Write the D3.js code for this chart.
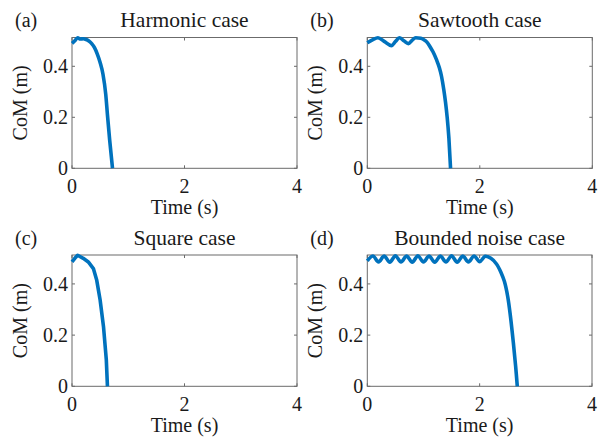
<!DOCTYPE html>
<html><head><meta charset="utf-8">
<script src="https://cdn.jsdelivr.net/npm/d3@7"></script>
<style>html,body{margin:0;padding:0;background:#fff;}svg{display:block;}</style>
</head><body>
<svg id="c" width="606" height="439"></svg>
<script>
// ---- data ----
const panelLetters = ["(a)", "(b)", "(c)", "(d)"];
const panelTitles = ["Harmonic case", "Sawtooth case", "Square case", "Bounded noise case"];
const xTicks = [0, 2, 4];
const yTicks = [0, 0.2, 0.4];
const xLabel = "Time (s)";
const yLabel = "CoM (m)";

const harmonicT = [0, 0.05, 0.1, 0.15, 0.2, 0.25, 0.3, 0.35, 0.4, 0.45, 0.5, 0.55, 0.6, 0.63, 0.67, 0.72];
const harmonicY = [0.49, 0.5, 0.512, 0.507, 0.508, 0.505, 0.499, 0.489, 0.473, 0.448, 0.415, 0.37, 0.29, 0.21, 0.11, 0];

const sawtoothT = [0, 0.1, 0.19, 0.3, 0.43, 0.5, 0.57, 0.65, 0.73, 0.8, 0.86, 0.95, 1.0, 1.06, 1.11, 1.17, 1.23, 1.28, 1.32, 1.36, 1.39, 1.42, 1.45, 1.48];
const sawtoothY = [0.492, 0.505, 0.512, 0.498, 0.481, 0.497, 0.512, 0.5, 0.489, 0.503, 0.512, 0.51, 0.505, 0.495, 0.479, 0.456, 0.426, 0.395, 0.36, 0.308, 0.26, 0.2, 0.12, 0];

const squareT = [0, 0.05, 0.1, 0.2, 0.29, 0.38, 0.44, 0.5, 0.56, 0.61, 0.63];
const squareY = [0.486, 0.5, 0.512, 0.5, 0.486, 0.46, 0.414, 0.337, 0.233, 0.103, 0];

const noiseT = [0, 0.1, 0.2, 0.3, 0.4, 0.5, 0.6, 0.7, 0.8, 0.9, 1.0, 1.1, 1.2, 1.3, 1.4, 1.5, 1.6, 1.7, 1.8, 1.9, 2.0, 2.1, 2.2, 2.3, 2.38, 2.44, 2.5, 2.55, 2.6, 2.64, 2.67];
const noiseY = [0.49, 0.509, 0.486, 0.509, 0.485, 0.51, 0.486, 0.509, 0.485, 0.51, 0.486, 0.509, 0.485, 0.509, 0.486, 0.51, 0.485, 0.509, 0.486, 0.509, 0.487, 0.508, 0.5, 0.478, 0.445, 0.41, 0.35, 0.27, 0.17, 0.08, 0];

const seriesT = [harmonicT, sawtoothT, squareT, noiseT];
const seriesY = [harmonicY, sawtoothY, squareY, noiseY];
const xDomain = [0, 4];
const yDomain = [0, 0.513];

// ---- layout ----
const svg = d3.select("#c");
const boxes = [
  {x0: 72, x1: 297, y0: 37.5, y1: 168.3},
  {x0: 367.3, x1: 592.3, y0: 37.5, y1: 168.3},
  {x0: 72, x1: 297, y0: 255, y1: 386.3},
  {x0: 367.3, x1: 592, y0: 255, y1: 386.3}
];
const font = "'Liberation Serif','Times New Roman',serif";
const textColor = "#1a1a1a";
const axisColor = "#6b6b6b";
const lineColor = "#0072BD";
const fs = 20;

boxes.forEach((b, i) => {
  const x = d3.scaleLinear().domain(xDomain).range([b.x0, b.x1]);
  const y = d3.scaleLinear().domain(yDomain).range([b.y1, b.y0]);
  const g = svg.append("g");

  const tl = 3;
  xTicks.forEach(t => {
    g.append("line").attr("x1", x(t)).attr("x2", x(t)).attr("y1", b.y1).attr("y2", b.y1 - tl)
      .attr("stroke", axisColor).attr("stroke-width", 1);
    g.append("line").attr("x1", x(t)).attr("x2", x(t)).attr("y1", b.y0).attr("y2", b.y0 + tl)
      .attr("stroke", axisColor).attr("stroke-width", 1);
    g.append("text").attr("x", x(t)).attr("y", b.y1 + 25).attr("text-anchor", "middle")
      .attr("font-family", font).attr("font-size", fs).attr("fill", textColor).text(d3.format("d")(t));
  });
  yTicks.forEach(t => {
    g.append("line").attr("x1", b.x0).attr("x2", b.x0 + tl).attr("y1", y(t)).attr("y2", y(t))
      .attr("stroke", axisColor).attr("stroke-width", 1);
    g.append("line").attr("x1", b.x1).attr("x2", b.x1 - tl).attr("y1", y(t)).attr("y2", y(t))
      .attr("stroke", axisColor).attr("stroke-width", 1);
    g.append("text").attr("x", b.x0 - 4).attr("y", y(t)).attr("dy", "0.34em").attr("text-anchor", "end")
      .attr("font-family", font).attr("font-size", fs).attr("fill", textColor).text(t === 0 ? "0" : d3.format(".1f")(t));
  });

  g.append("rect").attr("x", b.x0).attr("y", b.y0).attr("width", b.x1 - b.x0).attr("height", b.y1 - b.y0)
    .attr("fill", "none").attr("stroke", axisColor).attr("stroke-width", 1);

  const pts = seriesT[i].map((t, k) => [t, seriesY[i][k]]);
  const curve = i === 2 ? d3.curveLinear : (i === 3 ? d3.curveCatmullRom.alpha(0.5) : d3.curveMonotoneX);
  const line = d3.line().x(d => x(d[0])).y(d => y(d[1])).curve(curve);
  g.append("path").attr("d", line(pts)).attr("fill", "none").attr("stroke", lineColor)
    .attr("stroke-width", 3.6).attr("stroke-linejoin", "round").attr("stroke-linecap", "butt");

  const cx = (b.x0 + b.x1) / 2;
  g.append("text").attr("x", cx).attr("y", b.y1 + 46).attr("text-anchor", "middle")
    .attr("font-family", font).attr("font-size", fs).attr("fill", textColor).text(xLabel);
  g.append("text").attr("transform", `translate(${b.x0 - 45},${(b.y0 + b.y1) / 2}) rotate(-90)`)
    .attr("text-anchor", "middle").attr("font-family", font).attr("font-size", fs).attr("fill", textColor).text(yLabel);
  g.append("text").attr("x", cx).attr("y", b.y0 - 10.5).attr("text-anchor", "middle")
    .attr("font-family", font).attr("font-size", 21.5).attr("fill", textColor).text(panelTitles[i]);
  g.append("text").attr("x", b.x0 - 57).attr("y", b.y0 - 10.5).attr("text-anchor", "start")
    .attr("font-family", font).attr("font-size", fs).attr("fill", textColor).text(panelLetters[i]);
});
</script>
</body></html>
